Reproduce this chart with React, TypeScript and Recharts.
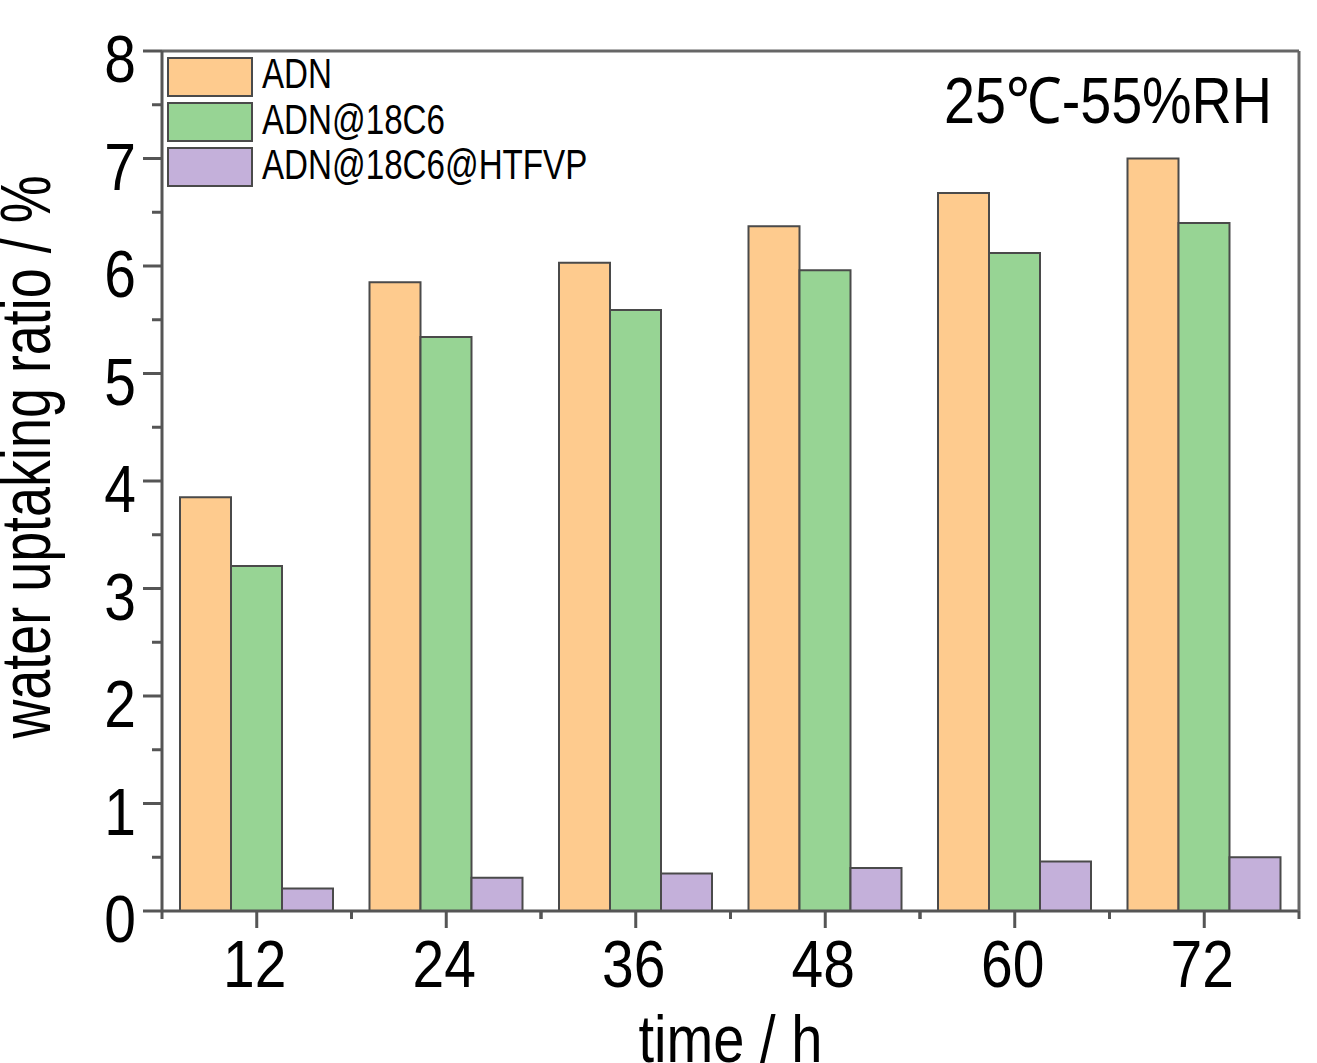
import React from "react";
import { Bar, BarChart, Label, Legend, XAxis, YAxis } from "recharts";

// Values (water uptake at 25℃ / 55% RH).
const HOURS = ["12", "24", "36", "48", "60", "72"];
const ADN = [3.85, 5.85, 6.03, 6.37, 6.68, 7.0];
const ADN_18C6 = [3.21, 5.34, 5.59, 5.96, 6.12, 6.4];
const ADN_18C6_HTFVP = [0.21, 0.31, 0.35, 0.4, 0.46, 0.5];
const Y_TICKS = [0, 0.5, 1, 1.5, 2, 2.5, 3, 3.5, 4, 4.5, 5, 5.5, 6, 6.5, 7, 7.5, 8];

const SERIES = [
  { key: "adn", name: "ADN", values: ADN, fill: "#FECB8E" },
  { key: "adn18", name: "ADN@18C6", values: ADN_18C6, fill: "#97D494" },
  { key: "htfvp", name: "ADN@18C6@HTFVP", values: ADN_18C6_HTFVP, fill: "#C4B0DA" },
];

const data = HOURS.map((h, i) => {
  const row: Record<string, string | number> = { hour: h };
  for (const s of SERIES) row[s.key] = s.values[i];
  return row;
});

const FONT = "'Liberation Sans', Arial, sans-serif";
const AXIS = "#555";
const EDGE = "#4a4a4a";

// Condensed look of the original: horizontal squash on plain Arial metrics.
function Squashed({ x, y, size, sx, anchor = "start", rotate = 0, children }: any) {
  return (
    <text
      x={0}
      y={0}
      textAnchor={anchor}
      fontFamily={FONT}
      fontSize={size}
      fill="#000"
      transform={`translate(${x},${y}) rotate(${rotate}) scale(${sx},1)`}
    >
      {children}
    </text>
  );
}

function YTick({ x, y, payload }: any) {
  const major = Number.isInteger(payload.value);
  return (
    <g>
      <line x1={x} x2={x - (major ? 19 : 10)} y1={y} y2={y} stroke={AXIS} strokeWidth={3} />
      {major && (
        <Squashed x={x - 26} y={y + 31} size={67} sx={0.85} anchor="end">
          {payload.value}
        </Squashed>
      )}
    </g>
  );
}

function XTick({ x, y, payload }: any) {
  const half = payload.offset || 94.75;
  return (
    <g>
      <line x1={x} x2={x} y1={y} y2={y + 17} stroke={AXIS} strokeWidth={3} />
      <line x1={x - half} x2={x - half} y1={y} y2={y + 8} stroke={AXIS} strokeWidth={3} />
      <line x1={x + half} x2={x + half} y1={y} y2={y + 8} stroke={AXIS} strokeWidth={3} />
      <Squashed x={x - 2} y={y + 76} size={67} sx={0.85} anchor="middle">
        {payload.value}
      </Squashed>
    </g>
  );
}

function LegendBoxes({ payload }: any) {
  const items = payload ?? [];
  return (
    <svg width={460} height={140} style={{ display: "block" }}>
      {items.map((it: any, i: number) => (
        <g key={it.value}>
          <rect x={5} y={4 + i * 45} width={84} height={38} fill={it.color} stroke={EDGE} strokeWidth={2} />
          <Squashed x={99} y={34 + i * 45.5} size={42} sx={0.79}>
            {it.value}
          </Squashed>
        </g>
      ))}
    </svg>
  );
}

export default function App() {
  return (
    <div style={{ position: "absolute", left: 0, top: 0, background: "#fff" }}>
      <BarChart
        width={1317}
        height={1063}
        data={data}
        margin={{ top: 50, right: 17, bottom: 0, left: 22 }}
        barCategoryGap={18}
        barGap={0}
      >
        <XAxis
          dataKey="hour"
          height={152}
          axisLine={{ stroke: AXIS, strokeWidth: 3 }}
          tickLine={false}
          tickSize={0}
          tickMargin={0}
          interval={0}
          tick={<XTick />}
        >
          <Label
            content={({ viewBox }: any) => (
              <Squashed x={viewBox.x + viewBox.width / 2} y={viewBox.y + 151} size={66} sx={0.85} anchor="middle">
                time / h
              </Squashed>
            )}
          />
        </XAxis>
        {/* frame: top edge carries the condition note */}
        <XAxis
          xAxisId="top"
          dataKey="hour"
          orientation="top"
          height={1}
          tick={false}
          tickLine={false}
          axisLine={{ stroke: "#666", strokeWidth: 3 }}
        >
          <Label
            content={({ viewBox }: any) => (
              <Squashed x={viewBox.x + viewBox.width - 27} y={viewBox.y + 73} size={64} sx={0.87} anchor="end">
                25℃-55%RH
              </Squashed>
            )}
          />
        </XAxis>
        <YAxis
          domain={[0, 8]}
          ticks={Y_TICKS}
          width={140}
          axisLine={{ stroke: AXIS, strokeWidth: 3 }}
          tickLine={false}
          tickSize={0}
          tickMargin={0}
          interval={0}
          tick={<YTick />}
        >
          <Label
            content={({ viewBox }: any) => (
              <Squashed x={viewBox.x + 28} y={viewBox.y + viewBox.height / 2 - 24} size={70} sx={0.77} anchor="middle" rotate={-90}>
                water uptaking ratio / %
              </Squashed>
            )}
          />
        </YAxis>
        <YAxis
          yAxisId="right"
          orientation="right"
          domain={[0, 8]}
          width={1}
          tick={false}
          tickLine={false}
          axisLine={{ stroke: "#666", strokeWidth: 3 }}
        />
        <Legend
          layout="vertical"
          verticalAlign="middle"
          align="center"
          content={<LegendBoxes />}
          wrapperStyle={{ left: 163, top: 54, width: 460, height: 140 }}
        />
        {SERIES.map((s) => (
          <Bar
            key={s.key}
            dataKey={s.key}
            name={s.name}
            fill={s.fill}
            stroke={EDGE}
            strokeWidth={2}
            isAnimationActive={false}
          />
        ))}
      </BarChart>
    </div>
  );
}
